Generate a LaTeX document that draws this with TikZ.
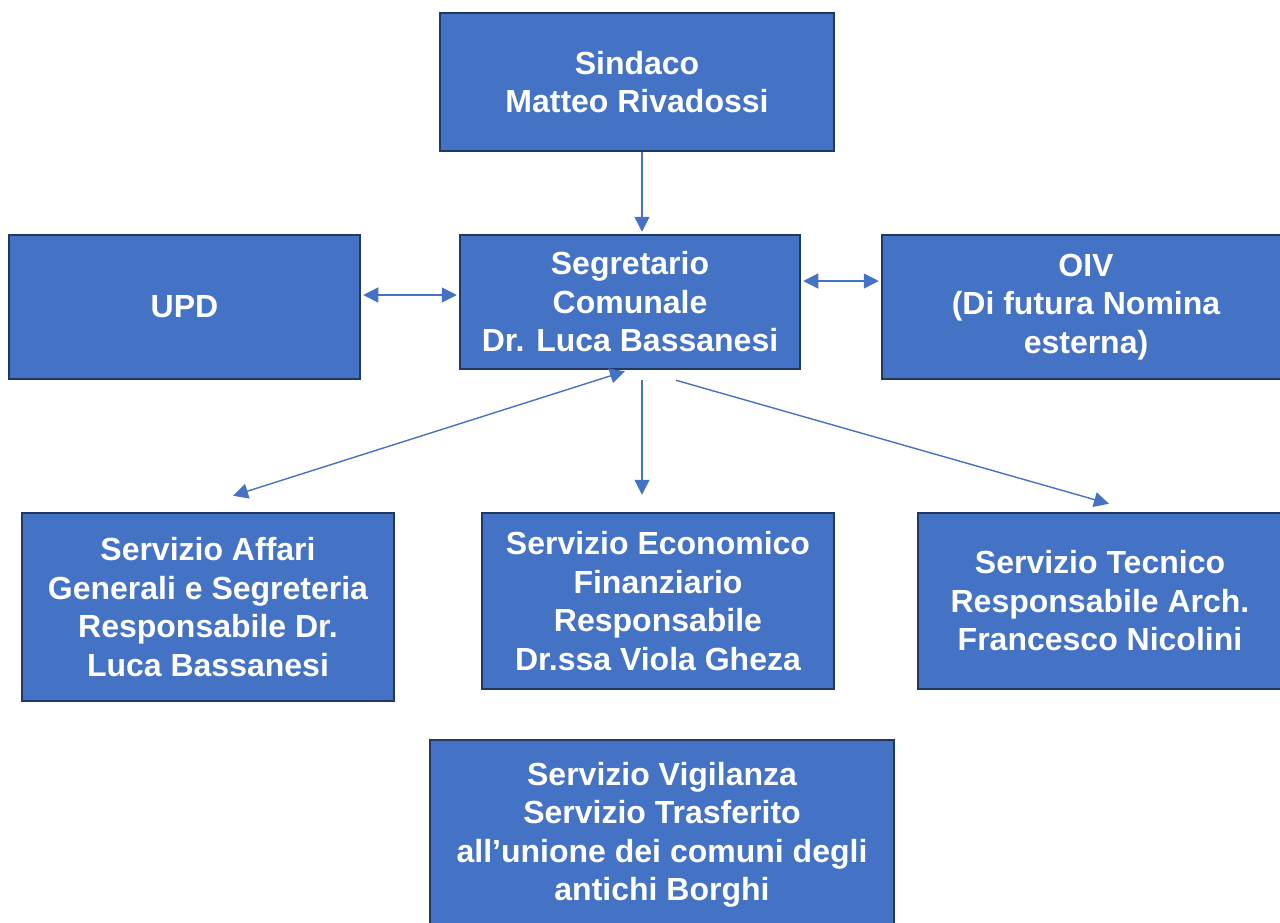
\documentclass[tikz,border=0pt]{standalone}
\usepackage{fontspec}
\setmainfont{Liberation Sans}
\usetikzlibrary{arrows.meta}
\definecolor{boxfill}{HTML}{4472C4}
\definecolor{boxline}{HTML}{1F3864}
\definecolor{arrowcol}{HTML}{4472C4}
\tikzset{
  orgbox/.style={rectangle, draw=boxline, fill=boxfill, line width=2.5pt, inner sep=0pt,
    text=white, align=center, font=\bfseries\fontsize{32}{38.5}\selectfont},
  conn/.style={draw=arrowcol, line width=1.4pt, -{Triangle[length=15pt,width=15pt]}},
  bconn/.style={draw=arrowcol, line width=1.4pt, {Triangle[length=15pt,width=15pt]}-{Triangle[length=15pt,width=15pt]}}
}
\begin{document}
\begin{tikzpicture}[x=1pt,y=-1pt]
\useasboundingbox (0,0) rectangle (1280,922);
\node[orgbox, minimum width=394pt, minimum height=138pt] (sind) at (637,82) {Sindaco\\Matteo Rivadossi};
\node[orgbox, minimum width=351pt, minimum height=144pt] (upd) at (184.5,307) {UPD};
\node[orgbox, minimum width=340pt, minimum height=134pt] (seg) at (630,302) {Segretario\\Comunale\\Dr. Luca Bassanesi};
\node[orgbox, minimum width=408pt, minimum height=144pt] (oiv) at (1086,307) {OIV\\(Di futura Nomina\\esterna)};
\node[orgbox, minimum width=372pt, minimum height=188pt] (aff) at (208,607) {Servizio Affari\\Generali e Segreteria\\Responsabile Dr.\\Luca Bassanesi};
\node[orgbox, minimum width=352pt, minimum height=176pt] (eco) at (658,601) {Servizio Economico\\Finanziario\\Responsabile\\Dr.ssa Viola Gheza};
\node[orgbox, minimum width=364pt, minimum height=176pt] (tec) at (1100,601) {Servizio Tecnico\\Responsabile Arch.\\Francesco Nicolini};
\node[orgbox, minimum width=464pt, minimum height=190pt] (vig) at (662,835) {Servizio Vigilanza\\Servizio Trasferito\\all’unione dei comuni degli\\antichi Borghi};
\draw[conn] ([xshift=5pt]sind.south) -- ([xshift=12pt,yshift=2pt]seg.north);
\draw[bconn] ([xshift=2pt,yshift=12pt]upd.east) -- ([xshift=-2pt,yshift=7pt]seg.west);
\draw[bconn] ([xshift=2pt,yshift=21pt]seg.east) -- ([xshift=-2pt,yshift=26pt]oiv.west);
\draw[bconn] ([xshift=-5pt,yshift=-1pt]seg.south) -- ([xshift=25pt,yshift=16pt]aff.north);
\draw[conn] ([xshift=12pt,yshift=-10pt]seg.south) -- ([xshift=-16pt,yshift=17pt]eco.north);
\draw[conn] ([xshift=46pt,yshift=-10pt]seg.south) -- ([xshift=9pt,yshift=8pt]tec.north);
\end{tikzpicture}
\end{document}
